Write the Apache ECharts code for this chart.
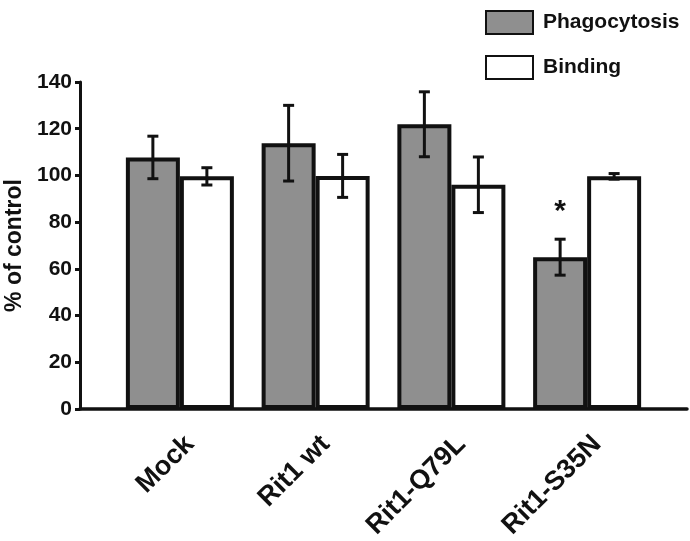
<!DOCTYPE html>
<html>
<head>
<meta charset="utf-8">
<script src="https://cdn.jsdelivr.net/npm/echarts@6/dist/echarts.min.js"></script>
<style>
  html, body { margin: 0; padding: 0; background: #fff; }
  #chart { width: 690px; height: 541px; }
</style>
</head>
<body>
<div id="chart"></div>
<script>
// data
const categories = ['Mock', 'Rit1 wt', 'Rit1-Q79L', 'Rit1-S35N'];
const phagocytosis = [107.7, 113.8, 121.9, 65];
const phagocytosisErr = [9.1, 16.2, 13.9, 7.7];
const binding = [99.6, 99.8, 96, 99.6];
const bindingErr = [3.7, 9.2, 11.9, 1.2];
const significance = ['', '', '', '*'];
const yTicks = { min: 0, max: 140, interval: 20 };

const FONT = '"Liberation Sans", Arial, sans-serif';
const BAR_W = 54;
const BORDER = 4;

const chart = echarts.init(document.getElementById('chart'));

// error bars drawn through the axis coords, shifted to the bar centre
const errorSeries = (values, errs, shift) => ({
  type: 'custom',
  xAxisIndex: 1,
  yAxisIndex: 1,
  z: 5,
  silent: true,
  data: values.map((v, i) => [i, v - errs[i], v + errs[i]]),
  renderItem: (params, api) => {
    const lo = api.coord([api.value(0), api.value(1)]);
    const hi = api.coord([api.value(0), api.value(2)]);
    const x = lo[0] + shift;
    const cap = 5.5;
    const style = { stroke: '#111', lineWidth: 3 };
    return {
      type: 'group',
      children: [
        { type: 'line', shape: { x1: x, y1: lo[1], x2: x, y2: hi[1] }, style },
        { type: 'line', shape: { x1: x - cap, y1: lo[1], x2: x + cap, y2: lo[1] }, style },
        { type: 'line', shape: { x1: x - cap, y1: hi[1], x2: x + cap, y2: hi[1] }, style },
      ],
    };
  },
});

const hidden = { show: false };
const gridBox = (left, right) => ({
  left, right, top: 82, bottom: 132, containLabel: false, outerBoundsMode: 'none',
});

const option = {
  animation: false,
  textStyle: { fontFamily: FONT },
  legend: {
    orient: 'vertical',
    left: 480,
    top: 5,
    itemWidth: 47,
    itemHeight: 23,
    itemGap: 20,
    icon: 'rect',
    textStyle: { fontSize: 21, fontWeight: 'bold', color: '#111', fontFamily: FONT, padding: [0, 0, 0, 5] },
    data: ['Phagocytosis', 'Binding'],
  },
  grid: [
    gridBox(80, 3),    // axis frame
    gridBox(112, 35),  // bars
    gridBox(122, 25),  // category labels (sit a little right of the bars in the figure)
  ],
  xAxis: [
    {
      gridIndex: 0, type: 'value', min: 0, max: 1,
      axisLine: { show: true, onZero: false, lineStyle: { color: '#111', width: 3.5 } },
      axisTick: hidden, axisLabel: hidden, splitLine: hidden,
    },
    {
      gridIndex: 1, type: 'category', data: categories,
      axisLine: hidden, axisTick: hidden, axisLabel: hidden,
    },
    {
      gridIndex: 2, type: 'category', data: categories,
      axisLine: hidden, axisTick: hidden,
      axisLabel: {
        rotate: 45, margin: 31, color: '#111',
        fontSize: 27, fontWeight: 'bold', fontFamily: FONT,
      },
    },
  ],
  yAxis: [
    {
      gridIndex: 0, type: 'value', ...yTicks,
      name: '% of control', nameLocation: 'middle', nameGap: 52, nameRotate: 90,
      nameTextStyle: { fontSize: 23, fontWeight: 'bold', color: '#111', fontFamily: FONT },
      axisLine: { show: true, lineStyle: { color: '#111', width: 3 } },
      axisTick: { show: true, inside: false, length: 5, lineStyle: { color: '#111', width: 3 } },
      axisLabel: { margin: 8, fontSize: 21, fontWeight: 'bold', color: '#111', fontFamily: FONT },
      splitLine: hidden,
    },
    { gridIndex: 1, type: 'value', ...yTicks, show: false },
    { gridIndex: 2, type: 'value', ...yTicks, show: false },
  ],
  series: [
    {
      name: 'Phagocytosis',
      type: 'bar',
      xAxisIndex: 1,
      yAxisIndex: 1,
      barWidth: BAR_W,
      barGap: '0%',
      itemStyle: { color: '#8f8f8f', borderColor: '#111', borderWidth: BORDER },
      label: {
        show: true,
        position: 'top',
        distance: 30,
        fontSize: 30,
        fontWeight: 'bold',
        color: '#111',
        fontFamily: FONT,
        formatter: (p) => significance[p.dataIndex],
      },
      data: phagocytosis,
    },
    {
      name: 'Binding',
      type: 'bar',
      xAxisIndex: 1,
      yAxisIndex: 1,
      barWidth: BAR_W,
      barGap: '0%',
      itemStyle: { color: '#ffffff', borderColor: '#111', borderWidth: BORDER },
      data: binding,
    },
    errorSeries(phagocytosis, phagocytosisErr, -BAR_W / 2),
    errorSeries(binding, bindingErr, BAR_W / 2),
  ],
};

chart.setOption(option);
</script>
</body>
</html>
